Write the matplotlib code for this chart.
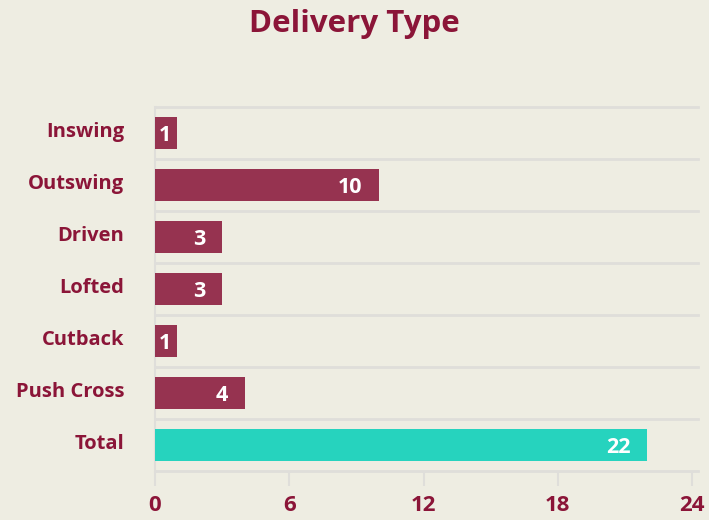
import matplotlib.pyplot as plt
from matplotlib.ticker import FixedLocator

categories = ['Inswing', 'Outswing', 'Driven', 'Lofted', 'Cutback', 'Push Cross', 'Total']
values = [1, 10, 3, 3, 1, 4, 22]
x_ticks = [0, 6, 12, 18, 24]

bg = '#EEEDE2'
maroon = '#8B1538'
bar_color = '#963350'
total_color = '#26D3BE'
grid_color = '#DFDEDA'

plt.rcParams['font.family'] = ['Open Sans', 'DejaVu Sans']

fig = plt.figure(figsize=(7.09, 5.2), dpi=100, facecolor=bg)
ax = fig.add_axes([155 / 709, 1 - 471 / 520, 537 / 709, 364 / 520])
ax.set_facecolor(bg)

y = list(range(len(categories)))
colors = [total_color if c == 'Total' else bar_color for c in categories]
ax.barh(y, values, height=0.62, color=colors, zorder=3)

for yi, v in zip(y, values):
    if v * 537 / 24 < 40:
        ax.annotate(str(v), (0, yi), xytext=(3, 0), textcoords='offset points',
                    ha='left', va='center_baseline', color='white',
                    fontsize=15.5, fontweight='bold', zorder=4)
    else:
        ax.annotate(str(v), (v, yi), xytext=(-12, 0), textcoords='offset points',
                    ha='right', va='center_baseline', color='white',
                    fontsize=15.5, fontweight='bold', zorder=4)

ax.set_xlim(0, 24)
ax.set_ylim(len(categories) - 0.5, -0.5)

# band separators
for b in [i - 0.5 for i in range(len(categories) + 1)]:
    ax.plot([0, 24.25], [b, b], color=grid_color, lw=2, clip_on=False, zorder=1)

ax.set_yticks([yi - 0.06 for yi in y])
ax.set_yticklabels(categories)
ax.xaxis.set_major_locator(FixedLocator(x_ticks))
ax.tick_params(axis='y', length=0, pad=22, labelsize=14.5, labelcolor=maroon)
ax.tick_params(axis='x', length=11, width=1.5, color=grid_color, pad=6,
               labelsize=16, labelcolor=maroon)
for lab in ax.get_yticklabels() + ax.get_xticklabels():
    lab.set_fontweight('bold')

for s in ['top', 'right', 'bottom']:
    ax.spines[s].set_visible(False)
ax.spines['left'].set_color(grid_color)
ax.spines['left'].set_linewidth(1.5)

fig.text(0.5, 1 - 24 / 520, 'Delivery Type', ha='center', va='center',
         fontsize=22.5, fontweight='bold', color=maroon)

fig.savefig('out.png', dpi=100, facecolor=bg)
